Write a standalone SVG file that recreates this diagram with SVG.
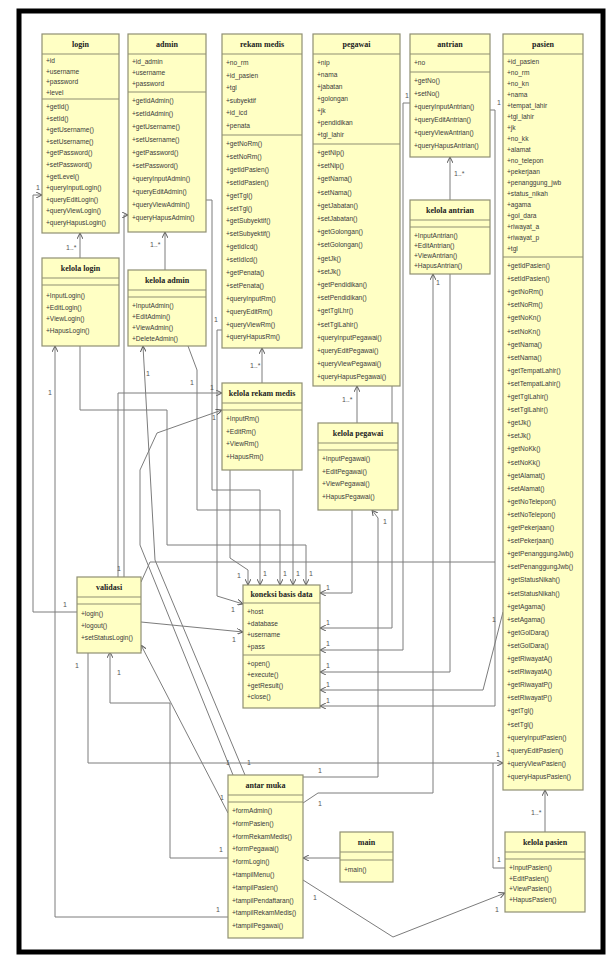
<svg xmlns="http://www.w3.org/2000/svg" width="613" height="967" viewBox="0 0 613 967">
<style>
.box{fill:#ffffc4;stroke:#8f8f73;stroke-width:1.2}
.ln{stroke:#8f8f73;stroke-width:1}
.nm{font-family:"Liberation Serif",serif;font-weight:bold;font-size:8px;fill:#222;text-anchor:middle}
.mb{font-family:"Liberation Sans",Arial,sans-serif;font-size:6.6px;fill:#3a3a3a}
.cn{fill:none;stroke:#7c7c7c;stroke-width:1}
.lb{font-family:"Liberation Sans",Arial,sans-serif;font-size:7px;fill:#555}
</style>
<defs>
<marker id="ar" viewBox="0 0 8 8" refX="8" refY="4" markerWidth="6" markerHeight="6" orient="auto"><path d="M0,0 L8,4 L0,8" fill="none" stroke="#555" stroke-width="1.3"/></marker>
</defs>
<rect x="0" y="0" width="613" height="967" fill="#fff"/>
<rect x="19" y="11" width="584" height="941" fill="#fff" stroke="#000" stroke-width="5"/>

<g id="connectors">
<path class="cn" d="M80,258 V233" marker-end="url(#ar)"/>
<path class="cn" d="M165,270 V232" marker-end="url(#ar)"/>
<path class="cn" d="M262,383 V348" marker-end="url(#ar)"/>
<path class="cn" d="M357,423 V386" marker-end="url(#ar)"/>
<path class="cn" d="M450,200 V157" marker-end="url(#ar)"/>
<path class="cn" d="M545,832 V790" marker-end="url(#ar)"/>
<path class="cn" d="M77,612 H33 V195 H42" marker-end="url(#ar)"/>
<path class="cn" d="M228,917 H55 V346" marker-end="url(#ar)"/>
<path class="cn" d="M124,577 V215 H128" marker-end="url(#ar)"/>
<path class="cn" d="M118,577 V393 H222" marker-end="url(#ar)"/>
<path class="cn" d="M80,346 V410 H167 V545 H306 V585" marker-end="url(#ar)"/>
<path class="cn" d="M293,470 V585" marker-end="url(#ar)"/>
<path class="cn" d="M188,346 L197,370 V510 H280 V585" marker-end="url(#ar)"/>
<path class="cn" d="M206,200 H212 V490 H260 V585" marker-end="url(#ar)"/>
<path class="cn" d="M230,470 V558 L248,570 V585" marker-end="url(#ar)"/>
<path class="cn" d="M222,330 H217 V596 L243,604" marker-end="url(#ar)"/>
<path class="cn" d="M141,622 L243,632" marker-end="url(#ar)"/>
<path class="cn" d="M352,510 V593 H320" marker-end="url(#ar)"/>
<path class="cn" d="M392,386 V628 H320" marker-end="url(#ar)"/>
<path class="cn" d="M410,103 H403 V650 H320" marker-end="url(#ar)"/>
<path class="cn" d="M450,274 V672 H320" marker-end="url(#ar)"/>
<path class="cn" d="M503,612 L483,690 H320" marker-end="url(#ar)"/>
<path class="cn" d="M490,110 H495 V706 H320" marker-end="url(#ar)"/>
<path class="cn" d="M303,777 H378 V518 L372,510" marker-end="url(#ar)"/>
<path class="cn" d="M303,803 L318,793 H433 V274" marker-end="url(#ar)"/>
<path class="cn" d="M303,880 L393,937 L505,893" marker-end="url(#ar)"/>
<path class="cn" d="M340,858 H303" marker-end="url(#ar)"/>
<path class="cn" d="M141,582 L150,562 H495"/>
<path class="cn" d="M88,652 V763 H503" marker-end="url(#ar)"/>
<path class="cn" d="M505,868 H493 V763"/>
<path class="cn" d="M228,858 H170 V703 H110 V652" marker-end="url(#ar)"/>
<path class="cn" d="M228,813 L141,645" marker-end="url(#ar)"/>
<path class="cn" d="M233,775 L140,545 V470 L157,433 L222,410" marker-end="url(#ar)"/>
<path class="cn" d="M245,775 L155,560 L143,346" marker-end="url(#ar)"/>
<g class="lb">
<text x="66" y="250">1..*</text>
<text x="150" y="247">1..*</text>
<text x="250" y="368">1..*</text>
<text x="342" y="402">1..*</text>
<text x="454" y="176">1..*</text>
<text x="531" y="815">1..*</text>
<text x="63" y="607">1</text><text x="36" y="190">1</text>
<text x="48" y="395">1</text><text x="216" y="912">1</text>
<text x="117" y="571">1</text><text x="210" y="390">1</text>
<text x="309" y="576">1</text><text x="296" y="576">1</text><text x="283" y="576">1</text><text x="263" y="576">1</text><text x="237" y="578">1</text>
<text x="190" y="385">1</text><text x="214" y="322">1</text><text x="231" y="612">1</text><text x="232" y="642">1</text>
<text x="326" y="590">1</text><text x="326" y="625">1</text><text x="405" y="98">1</text><text x="326" y="646">1</text><text x="326" y="668">1</text>
<text x="492" y="622">1</text><text x="326" y="687">1</text><text x="497" y="105">1</text><text x="326" y="703">1</text>
<text x="318" y="773">1</text><text x="383" y="524">1</text><text x="318" y="806">1</text><text x="436" y="285">1</text>
<text x="313" y="900">1</text><text x="495" y="912">1</text>
<text x="496" y="757">1</text><text x="75" y="668">1</text><text x="497" y="862">1</text>
<text x="117" y="675">1</text><text x="219" y="852">1</text><text x="220" y="800">1</text>
<text x="226" y="765">1</text><text x="212" y="420">1</text><text x="247" y="765">1</text><text x="146" y="376">1</text>
</g>
</g>

<g id="login">
<rect class="box" x="42" y="34" width="77" height="199"/>
<line class="ln" x1="42" y1="54" x2="119" y2="54"/><line class="ln" x1="42" y1="99" x2="119" y2="99"/>
<text class="nm" x="80.5" y="47">login</text>
<text class="mb" x="46" y="63"><tspan x="46">+id</tspan><tspan x="46" dy="10.5">+username</tspan><tspan x="46" dy="10.5">+password</tspan><tspan x="46" dy="10.5">+level</tspan></text>
<text class="mb" x="46" y="109"><tspan x="46">+getId()</tspan><tspan x="46" dy="11.6">+setId()</tspan><tspan x="46" dy="11.6">+getUsername()</tspan><tspan x="46" dy="11.6">+setUsername()</tspan><tspan x="46" dy="11.6">+getPassword()</tspan><tspan x="46" dy="11.6">+setPassword()</tspan><tspan x="46" dy="11.6">+getLevel()</tspan><tspan x="46" dy="11.6">+queryInputLogin()</tspan><tspan x="46" dy="11.6">+queryEditLogin()</tspan><tspan x="46" dy="11.6">+queryViewLogin()</tspan><tspan x="46" dy="11.6">+queryHapusLogin()</tspan></text>
</g>

<g id="admin">
<rect class="box" x="128" y="34" width="78" height="198"/>
<line class="ln" x1="128" y1="54" x2="206" y2="54"/><line class="ln" x1="128" y1="92" x2="206" y2="92"/>
<text class="nm" x="167" y="47">admin</text>
<text class="mb" x="132" y="64"><tspan x="132">+id_admin</tspan><tspan x="132" dy="11">+username</tspan><tspan x="132" dy="11">+password</tspan></text>
<text class="mb" x="132" y="103"><tspan x="132">+getIdAdmin()</tspan><tspan x="132" dy="13">+setIdAdmin()</tspan><tspan x="132" dy="13">+getUsername()</tspan><tspan x="132" dy="13">+setUsername()</tspan><tspan x="132" dy="13">+getPassword()</tspan><tspan x="132" dy="13">+setPassword()</tspan><tspan x="132" dy="13">+queryInputAdmin()</tspan><tspan x="132" dy="13">+queryEditAdmin()</tspan><tspan x="132" dy="13">+queryViewAdmin()</tspan><tspan x="132" dy="13">+queryHapusAdmin()</tspan></text>
</g>

<g id="rekam-medis">
<rect class="box" x="222" y="34" width="80" height="314"/>
<line class="ln" x1="222" y1="54" x2="302" y2="54"/><line class="ln" x1="222" y1="135" x2="302" y2="135"/>
<text class="nm" x="262" y="47">rekam medis</text>
<text class="mb" x="226" y="65"><tspan x="226">+no_rm</tspan><tspan x="226" dy="12.5">+id_pasien</tspan><tspan x="226" dy="12.5">+tgl</tspan><tspan x="226" dy="12.5">+subyektif</tspan><tspan x="226" dy="12.5">+id_icd</tspan><tspan x="226" dy="12.5">+penata</tspan></text>
<text class="mb" x="226" y="146"><tspan x="226">+getNoRm()</tspan><tspan x="226" dy="12.9">+setNoRm()</tspan><tspan x="226" dy="12.9">+getIdPasien()</tspan><tspan x="226" dy="12.9">+setIdPasien()</tspan><tspan x="226" dy="12.9">+getTgl()</tspan><tspan x="226" dy="12.9">+setTgl()</tspan><tspan x="226" dy="12.9">+getSubyektif()</tspan><tspan x="226" dy="12.9">+setSubyektif()</tspan><tspan x="226" dy="12.9">+getIdIcd()</tspan><tspan x="226" dy="12.9">+setIdIcd()</tspan><tspan x="226" dy="12.9">+getPenata()</tspan><tspan x="226" dy="12.9">+setPenata()</tspan><tspan x="226" dy="12.9">+queryInputRm()</tspan><tspan x="226" dy="12.9">+queryEditRm()</tspan><tspan x="226" dy="12.9">+queryViewRm()</tspan><tspan x="226" dy="12.9">+queryHapusRm()</tspan></text>
</g>

<g id="pegawai">
<rect class="box" x="313" y="34" width="87" height="352"/>
<line class="ln" x1="313" y1="54" x2="400" y2="54"/><line class="ln" x1="313" y1="144" x2="400" y2="144"/>
<text class="nm" x="356.5" y="47">pegawai</text>
<text class="mb" x="317" y="65"><tspan x="317">+nip</tspan><tspan x="317" dy="12">+nama</tspan><tspan x="317" dy="12">+jabatan</tspan><tspan x="317" dy="12">+golongan</tspan><tspan x="317" dy="12">+jk</tspan><tspan x="317" dy="12">+pendidikan</tspan><tspan x="317" dy="12">+tgl_lahir</tspan></text>
<text class="mb" x="317" y="155"><tspan x="317">+getNip()</tspan><tspan x="317" dy="13.2">+setNip()</tspan><tspan x="317" dy="13.2">+getNama()</tspan><tspan x="317" dy="13.2">+setNama()</tspan><tspan x="317" dy="13.2">+getJabatan()</tspan><tspan x="317" dy="13.2">+setJabatan()</tspan><tspan x="317" dy="13.2">+getGolongan()</tspan><tspan x="317" dy="13.2">+setGolongan()</tspan><tspan x="317" dy="13.2">+getJk()</tspan><tspan x="317" dy="13.2">+setJk()</tspan><tspan x="317" dy="13.2">+getPendidikan()</tspan><tspan x="317" dy="13.2">+setPendidikan()</tspan><tspan x="317" dy="13.2">+getTglLhr()</tspan><tspan x="317" dy="13.2">+setTglLahir()</tspan><tspan x="317" dy="13.2">+queryInputPegawai()</tspan><tspan x="317" dy="13.2">+queryEditPegawai()</tspan><tspan x="317" dy="13.2">+queryViewPegawai()</tspan><tspan x="317" dy="13.2">+queryHapusPegawai()</tspan></text>
</g>

<g id="antrian">
<rect class="box" x="410" y="34" width="80" height="123"/>
<line class="ln" x1="410" y1="54" x2="490" y2="54"/><line class="ln" x1="410" y1="72" x2="490" y2="72"/>
<text class="nm" x="450" y="47">antrian</text>
<text class="mb" x="414" y="65">+no</text>
<text class="mb" x="414" y="83"><tspan x="414">+getNo()</tspan><tspan x="414" dy="13">+setNo()</tspan><tspan x="414" dy="13">+queryInputAntrian()</tspan><tspan x="414" dy="13">+queryEditAntrian()</tspan><tspan x="414" dy="13">+queryViewAntrian()</tspan><tspan x="414" dy="13">+queryHapusAntrian()</tspan></text>
</g>

<g id="kelola-antrian">
<rect class="box" x="410" y="200" width="80" height="74"/>
<line class="ln" x1="410" y1="220" x2="490" y2="220"/><line class="ln" x1="410" y1="227" x2="490" y2="227"/>
<text class="nm" x="450" y="213">kelola antrian</text>
<text class="mb" x="414" y="238"><tspan x="414">+InputAntrian()</tspan><tspan x="414" dy="10">+EditAntrian()</tspan><tspan x="414" dy="10">+ViewAntrian()</tspan><tspan x="414" dy="10">+HapusAntrian()</tspan></text>
</g>

<g id="pasien">
<rect class="box" x="503" y="34" width="80" height="756"/>
<line class="ln" x1="503" y1="54" x2="583" y2="54"/><line class="ln" x1="503" y1="257" x2="583" y2="257"/>
<text class="nm" x="543" y="47">pasien</text>
<text class="mb" x="507" y="64"><tspan x="507">+id_pasien</tspan><tspan x="507" dy="11">+no_rm</tspan><tspan x="507" dy="11">+no_kn</tspan><tspan x="507" dy="11">+nama</tspan><tspan x="507" dy="11">+tempat_lahir</tspan><tspan x="507" dy="11">+tgl_lahir</tspan><tspan x="507" dy="11">+jk</tspan><tspan x="507" dy="11">+no_kk</tspan><tspan x="507" dy="11">+alamat</tspan><tspan x="507" dy="11">+no_telepon</tspan><tspan x="507" dy="11">+pekerjaan</tspan><tspan x="507" dy="11">+penanggung_jwb</tspan><tspan x="507" dy="11">+status_nikah</tspan><tspan x="507" dy="11">+agama</tspan><tspan x="507" dy="11">+gol_dara</tspan><tspan x="507" dy="11">+riwayat_a</tspan><tspan x="507" dy="11">+riwayat_p</tspan><tspan x="507" dy="11">+tgl</tspan></text>
<text class="mb" x="507" y="268"><tspan x="507">+getIdPasien()</tspan><tspan x="507" dy="13.1">+setIdPasien()</tspan><tspan x="507" dy="13.1">+getNoRm()</tspan><tspan x="507" dy="13.1">+setNoRm()</tspan><tspan x="507" dy="13.1">+getNoKn()</tspan><tspan x="507" dy="13.1">+setNoKn()</tspan><tspan x="507" dy="13.1">+getNama()</tspan><tspan x="507" dy="13.1">+setNama()</tspan><tspan x="507" dy="13.1">+getTempatLahir()</tspan><tspan x="507" dy="13.1">+setTempatLahir()</tspan><tspan x="507" dy="13.1">+getTglLahir()</tspan><tspan x="507" dy="13.1">+setTglLahir()</tspan><tspan x="507" dy="13.1">+getJk()</tspan><tspan x="507" dy="13.1">+setJk()</tspan><tspan x="507" dy="13.1">+getNoKk()</tspan><tspan x="507" dy="13.1">+setNoKk()</tspan><tspan x="507" dy="13.1">+getAlamat()</tspan><tspan x="507" dy="13.1">+setAlamat()</tspan><tspan x="507" dy="13.1">+getNoTelepon()</tspan><tspan x="507" dy="13.1">+setNoTelepon()</tspan><tspan x="507" dy="13.1">+getPekerjaan()</tspan><tspan x="507" dy="13.1">+setPekerjaan()</tspan><tspan x="507" dy="13.1">+getPenanggungJwb()</tspan><tspan x="507" dy="13.1">+setPenanggungJwb()</tspan><tspan x="507" dy="13.1">+getStatusNikah()</tspan><tspan x="507" dy="13.1">+setStatusNikah()</tspan><tspan x="507" dy="13.1">+getAgama()</tspan><tspan x="507" dy="13.1">+setAgama()</tspan><tspan x="507" dy="13.1">+getGolDara()</tspan><tspan x="507" dy="13.1">+setGolDara()</tspan><tspan x="507" dy="13.1">+getRiwayatA()</tspan><tspan x="507" dy="13.1">+setRiwayatA()</tspan><tspan x="507" dy="13.1">+getRiwayatP()</tspan><tspan x="507" dy="13.1">+setRiwayatP()</tspan><tspan x="507" dy="13.1">+getTgl()</tspan><tspan x="507" dy="13.1">+setTgl()</tspan><tspan x="507" dy="13.1">+queryInputPasien()</tspan><tspan x="507" dy="13.1">+queryEditPasien()</tspan><tspan x="507" dy="13.1">+queryViewPasien()</tspan><tspan x="507" dy="13.1">+queryHapusPasien()</tspan></text>
</g>

<g id="kelola-login">
<rect class="box" x="42" y="258" width="77" height="88"/>
<line class="ln" x1="42" y1="278" x2="119" y2="278"/><line class="ln" x1="42" y1="285" x2="119" y2="285"/>
<text class="nm" x="80.5" y="271">kelola login</text>
<text class="mb" x="46" y="298"><tspan x="46">+InputLogin()</tspan><tspan x="46" dy="11.5">+EditLogin()</tspan><tspan x="46" dy="11.5">+ViewLogin()</tspan><tspan x="46" dy="11.5">+HapusLogin()</tspan></text>
</g>

<g id="kelola-admin">
<rect class="box" x="128" y="270" width="78" height="76"/>
<line class="ln" x1="128" y1="290" x2="206" y2="290"/><line class="ln" x1="128" y1="297" x2="206" y2="297"/>
<text class="nm" x="167" y="283">kelola admin</text>
<text class="mb" x="132" y="308"><tspan x="132">+InputAdmin()</tspan><tspan x="132" dy="11">+EditAdmin()</tspan><tspan x="132" dy="11">+ViewAdmin()</tspan><tspan x="132" dy="11">+DeleteAdmin()</tspan></text>
</g>

<g id="kelola-rekam-medis">
<rect class="box" x="222" y="383" width="80" height="87"/>
<line class="ln" x1="222" y1="403" x2="302" y2="403"/><line class="ln" x1="222" y1="410" x2="302" y2="410"/>
<text class="nm" x="262" y="396">kelola rekam medis</text>
<text class="mb" x="226" y="421"><tspan x="226">+InputRm()</tspan><tspan x="226" dy="12.5">+EditRm()</tspan><tspan x="226" dy="12.5">+ViewRm()</tspan><tspan x="226" dy="12.5">+HapusRm()</tspan></text>
</g>

<g id="kelola-pegawai">
<rect class="box" x="318" y="423" width="80" height="87"/>
<line class="ln" x1="318" y1="443" x2="398" y2="443"/><line class="ln" x1="318" y1="450" x2="398" y2="450"/>
<text class="nm" x="358" y="436">kelola pegawai</text>
<text class="mb" x="322" y="461"><tspan x="322">+InputPegawai()</tspan><tspan x="322" dy="12.5">+EditPegawai()</tspan><tspan x="322" dy="12.5">+ViewPegawai()</tspan><tspan x="322" dy="12.5">+HapusPegawai()</tspan></text>
</g>

<g id="validasi">
<rect class="box" x="77" y="577" width="64" height="76"/>
<line class="ln" x1="77" y1="597" x2="141" y2="597"/><line class="ln" x1="77" y1="604" x2="141" y2="604"/>
<text class="nm" x="109" y="590">validasi</text>
<text class="mb" x="81" y="616"><tspan x="81">+login()</tspan><tspan x="81" dy="12">+logout()</tspan><tspan x="81" dy="12">+setStatusLogin()</tspan></text>
</g>

<g id="koneksi-basis-data">
<rect class="box" x="243" y="585" width="77" height="123"/>
<line class="ln" x1="243" y1="603" x2="320" y2="603"/><line class="ln" x1="243" y1="655" x2="320" y2="655"/>
<text class="nm" x="281.5" y="597">koneksi basis data</text>
<text class="mb" x="247" y="614"><tspan x="247">+host</tspan><tspan x="247" dy="11.5">+database</tspan><tspan x="247" dy="11.5">+username</tspan><tspan x="247" dy="11.5">+pass</tspan></text>
<text class="mb" x="247" y="666"><tspan x="247">+open()</tspan><tspan x="247" dy="11">+execute()</tspan><tspan x="247" dy="11">+getResult()</tspan><tspan x="247" dy="11">+close()</tspan></text>
</g>

<g id="antar-muka">
<rect class="box" x="228" y="775" width="75" height="163"/>
<line class="ln" x1="228" y1="795" x2="303" y2="795"/><line class="ln" x1="228" y1="802" x2="303" y2="802"/>
<text class="nm" x="265.5" y="788">antar muka</text>
<text class="mb" x="232" y="813"><tspan x="232">+formAdmin()</tspan><tspan x="232" dy="12.8">+formPasien()</tspan><tspan x="232" dy="12.8">+formRekamMedis()</tspan><tspan x="232" dy="12.8">+formPegawai()</tspan><tspan x="232" dy="12.8">+formLogin()</tspan><tspan x="232" dy="12.8">+tampilMenu()</tspan><tspan x="232" dy="12.8">+tampilPasien()</tspan><tspan x="232" dy="12.8">+tampilPendaftaran()</tspan><tspan x="232" dy="12.8">+tampilRekamMedis()</tspan><tspan x="232" dy="12.8">+tampilPegawai()</tspan></text>
</g>

<g id="main">
<rect class="box" x="340" y="832" width="53" height="50"/>
<line class="ln" x1="340" y1="852" x2="393" y2="852"/><line class="ln" x1="340" y1="860" x2="393" y2="860"/>
<text class="nm" x="366.5" y="845">main</text>
<text class="mb" x="344" y="872">+main()</text>
</g>

<g id="kelola-pasien">
<rect class="box" x="505" y="832" width="80" height="80"/>
<line class="ln" x1="505" y1="852" x2="585" y2="852"/><line class="ln" x1="505" y1="859" x2="585" y2="859"/>
<text class="nm" x="545" y="845">kelola pasien</text>
<text class="mb" x="509" y="870"><tspan x="509">+InputPasien()</tspan><tspan x="509" dy="10.5">+EditPasien()</tspan><tspan x="509" dy="10.5">+ViewPasien()</tspan><tspan x="509" dy="10.5">+HapusPasien()</tspan></text>
</g>
</svg>
